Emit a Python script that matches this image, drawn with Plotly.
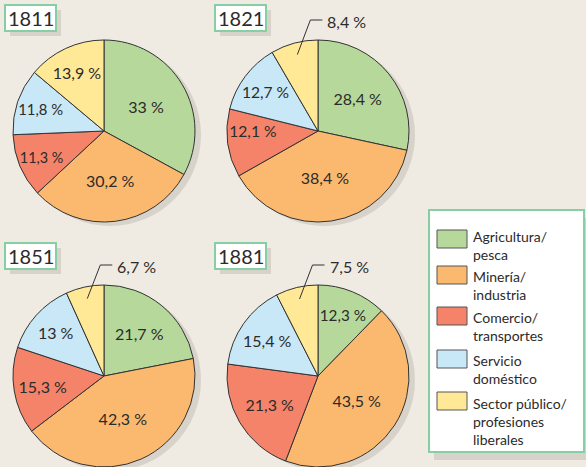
import math
import plotly.graph_objects as go

W, H = 586, 467

years = ["1811", "1821", "1851", "1881"]
categories = ["Agricultura/<br>pesca", "Minería/<br>industria", "Comercio/<br>transportes",
              "Servicio<br>doméstico", "Sector público/<br>profesiones<br>liberales"]
v1811 = [33, 30.2, 11.3, 11.8, 13.9]
v1821 = [28.4, 38.4, 12.1, 12.7, 8.4]
v1851 = [21.7, 42.3, 15.3, 13, 6.7]
v1881 = [12.3, 43.5, 21.3, 15.4, 7.5]
series = [v1811, v1821, v1851, v1881]

colors = ["#B6D99B", "#FBB96F", "#F4836A", "#C8E7F7", "#FFE997"]
BG = "#EFEBE2"
SHADOW = "#D7D3CB"
GREEN_BORDER = "#86CFA4"
TXT = "#2B2B2B"
FONT = "Lato"

def fmt(v):
    s = f"{v:g}".replace(".", ",")
    return s + " %"

def px(x):
    return x / W

def py(y):
    return 1 - y / H

# pie layout (pixels): center x, center y, radius
R = 91
centers = [(104, 131), (318, 131), (104, 376), (318, 376)]

fig = go.Figure()
shapes = []
annotations = []

for i, (yr, vals) in enumerate(zip(years, series)):
    cx, cy = centers[i]
    texts = [fmt(v) for v in vals]
    small_outside = i > 0  # yellow slice labelled outside with a leader line
    if small_outside:
        texts[4] = ""
    if cy + R > H:
        dom_y = [0, py(H - 2 * R)]
        ccy = H - R
    else:
        dom_y = [py(cy + R), py(cy - R)]
        ccy = cy
    fig.add_trace(go.Pie(
        values=vals,
        labels=categories,
        text=texts,
        textinfo="text",
        textposition="inside",
        insidetextorientation="horizontal",
        sort=False,
        direction="clockwise",
        rotation=0,
        marker=dict(colors=colors, line=dict(color="#333333", width=1)),
        textfont=dict(family=FONT, size=16, color=TXT),
        domain=dict(x=[px(cx - R), px(cx + R)], y=dom_y),
        showlegend=False,
        hoverinfo="label+value",
    ))
    # pie shadow
    shapes.append(dict(type="circle", xref="paper", yref="paper", layer="below",
                       x0=px(cx - R + 6), x1=px(cx + R + 6), y0=py(ccy + R + 4), y1=py(ccy - R + 4),
                       fillcolor=SHADOW, line=dict(width=0)))
    # year box
    bx, by = (5 if i % 2 == 0 else 215), (5 if i < 2 else 243)
    shapes.append(dict(type="rect", xref="paper", yref="paper", layer="below",
                       x0=px(bx + 5), x1=px(bx + 56), y0=py(by + 31), y1=py(by + 5),
                       fillcolor=SHADOW, line=dict(width=0)))
    shapes.append(dict(type="rect", xref="paper", yref="paper", layer="below",
                       x0=px(bx), x1=px(bx + 51), y0=py(by + 26), y1=py(by),
                       fillcolor="white", line=dict(color=GREEN_BORDER, width=2)))
    annotations.append(dict(x=px(bx + 25.5), y=py(by + 13), xref="paper", yref="paper",
                            text=yr, showarrow=False, xanchor="center", yanchor="middle",
                            font=dict(family=FONT, size=20, color=TXT)))
    if small_outside:
        # leader line from the yellow slice to its outside label
        a = 2 * math.pi * (sum(vals[:4]) + vals[4] / 2) / sum(vals)
        sx, sy = cx + 0.87 * R * math.sin(a), ccy - 0.87 * R * math.cos(a)
        ky = ccy - R - 20
        kx = sx + 13
        path = f"M {px(sx)},{py(sy)} L {px(kx)},{py(ky)} L {px(kx + 12)},{py(ky)}"
        shapes.append(dict(type="path", xref="paper", yref="paper", path=path,
                           line=dict(color="#333333", width=1)))
        annotations.append(dict(x=px(kx + 15), y=py(ky + 1), xref="paper", yref="paper",
                                text=fmt(vals[4]), showarrow=False, xanchor="left", yanchor="middle",
                                font=dict(family=FONT, size=16, color=TXT)))

# legend box
LX0, LY0, LX1, LY1 = 429, 210, 584, 452
shapes.append(dict(type="rect", xref="paper", yref="paper", layer="below",
                   x0=px(LX0 + 5), x1=px(LX1 + 5), y0=py(LY1 + 8), y1=py(LY0 + 8),
                   fillcolor=SHADOW, line=dict(width=0)))
shapes.append(dict(type="rect", xref="paper", yref="paper", layer="below",
                   x0=px(LX0), x1=px(LX1), y0=py(LY1), y1=py(LY0),
                   fillcolor="white", line=dict(color=GREEN_BORDER, width=2)))
swatch_tops = [230, 266, 307, 350, 392]
first_baselines = [241, 281, 322, 365, 408]
LFS = 14
LINE = 1.3 * LFS
for cat, col, top, base in zip(categories, colors, swatch_tops, first_baselines):
    shapes.append(dict(type="rect", xref="paper", yref="paper",
                       x0=px(437), x1=px(467), y0=py(top + 18), y1=py(top),
                       fillcolor=col, line=dict(color="#555555", width=1)))
    n = len(cat.split("<br>"))
    cyl = base + (n - 1) * LINE / 2 - 0.33 * LFS
    annotations.append(dict(x=px(471), y=py(cyl), xref="paper", yref="paper",
                            text=cat, showarrow=False, xanchor="left", yanchor="middle", align="left",
                            font=dict(family=FONT, size=LFS, color=TXT)))

fig.update_layout(
    width=W, height=H,
    margin=dict(l=0, r=0, t=0, b=0),
    paper_bgcolor=BG, plot_bgcolor=BG,
    shapes=shapes, annotations=annotations,
    showlegend=False,
)
fig.write_html("out.html", config={"displayModeBar": False},
               post_script="document.body.style.margin='0';document.body.style.overflow='hidden';")
